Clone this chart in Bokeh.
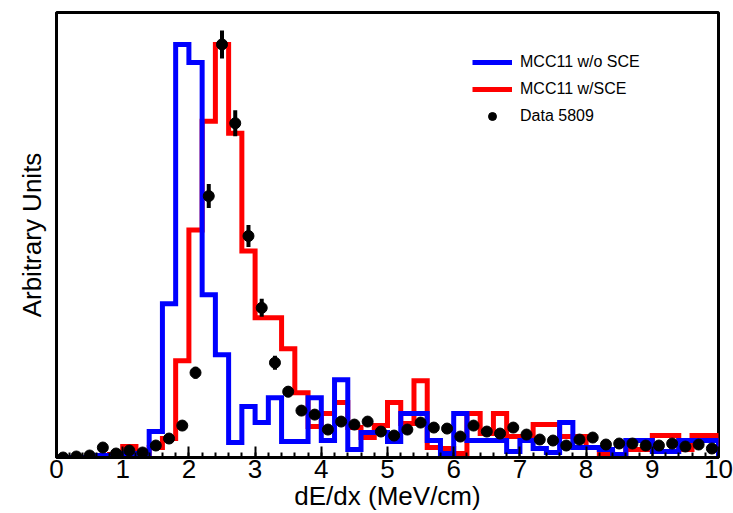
from bokeh.plotting import figure
from bokeh.models import FixedTicker, Legend, LegendItem, Range1d
from bokeh.embed import file_html
from bokeh.resources import INLINE

# ---- data (arbitrary units) ----
bin_edges = [round(0.2 * i, 1) for i in range(51)]
bin_centers = [round(0.1 + 0.2 * i, 1) for i in range(50)]
x_tick_values = [0, 1, 2, 3, 4, 5, 6, 7, 8, 9, 10]
x_tick_labels = ["0", "1", "2", "3", "4", "5", "6", "7", "8", "9", "10"]

mc_no_sce = [0, 0, 0, 2, 2, 4, 4, 26, 154, 414,
             396, 163, 103, 15, 51, 35, 60, 16, 16, 60,
             17, 78, 8, 25, 25, 16, 44, 44, 17, 4,
             44, 17, 17, 17, 6, 17, 9, 5, 35, 10,
             10, 8, 3, 17, 17, 6, 6, 17, 17, 17]

mc_sce = [0, 0, 0, 0, 3, 11, 3, 10, 19, 97,
          228, 337, 414, 325, 207, 140, 140, 109, 65, 31,
          44, 55, 30, 20, 32, 55, 34, 77, 10, 9,
          4, 44, 24, 44, 21, 21, 33, 33, 21, 21,
          10, 4, 3, 8, 8, 22, 22, 8, 22, 22]

data_5809 = [0, 1, 2, 10, 4, 7, 5, 12, 19, 32,
             85, 262, 414, 335, 222, 150, 95, 66, 47, 43,
             28, 36, 33, 36, 26, 22, 28, 35, 30, 29,
             21, 32, 26, 24, 30, 23, 18, 17, 12, 18,
             20, 13, 14, 14, 12, 12, 14, 11, 13, 9]

data_err = [0, 0.5, 1, 2, 1, 2, 1.5, 2.5, 3, 4,
            6, 12, 14, 13, 11, 9, 7, 5.5, 4.7, 4.5,
            3.6, 4, 4, 4, 3.5, 3.2, 3.6, 4, 3.8, 3.7,
            3.1, 3.9, 3.5, 3.4, 3.8, 3.3, 2.9, 2.8, 2.4, 2.9,
            3, 2.5, 2.6, 2.6, 2.4, 2.4, 2.6, 2.3, 2.5, 2.1]


def step_outline(edges, vals):
    xs, ys = [edges[0]], [0]
    for i, v in enumerate(vals):
        xs += [edges[i], edges[i + 1]]
        ys += [v, v]
    xs.append(edges[-1])
    ys.append(0)
    return xs, ys


FONT = "Liberation Sans"

p = figure(width=733, height=513,
           x_range=Range1d(0, 10), y_range=Range1d(0, 446),
           output_backend="svg", toolbar_location=None,
           min_border_left=56, min_border_right=15,
           min_border_top=12, min_border_bottom=55)
p.grid.visible = False
p.background_fill_color = "white"
p.border_fill_color = "white"
p.outline_line_color = "black"
p.outline_line_width = 3

rx, ry = step_outline(bin_edges, mc_sce)
red_line = p.line(rx, ry, line_color="#ff0000", line_width=5, line_join="miter")
bx, by = step_outline(bin_edges, mc_no_sce)
blue_line = p.line(bx, by, line_color="#0000ff", line_width=5, line_join="miter")

lo = [v - e for v, e in zip(data_5809, data_err)]
hi = [v + e for v, e in zip(data_5809, data_err)]
p.segment(x0=bin_centers, y0=lo, x1=bin_centers, y1=hi, line_color="black", line_width=4)
pts = p.scatter(bin_centers, data_5809, size=11, marker="circle",
                fill_color="black", line_color="black")

# x axis
xa = p.xaxis[0]
xa.ticker = FixedTicker(ticks=x_tick_values, minor_ticks=bin_edges)
xa.major_label_overrides = {t: l for t, l in zip(x_tick_values, x_tick_labels)}
xa.axis_line_width = 3
xa.major_tick_in = 11
xa.major_tick_out = 0
xa.minor_tick_in = 5
xa.minor_tick_out = 0
xa.major_tick_line_width = 2
xa.minor_tick_line_width = 2
xa.major_label_text_font = FONT
xa.major_label_text_font_size = "26px"
xa.major_label_text_color = "black"
xa.major_label_standoff = 2
xa.axis_label = "dE/dx (MeV/cm)"
xa.axis_label_text_font = FONT
xa.axis_label_text_font_size = "26px"
xa.axis_label_text_font_style = "normal"
xa.axis_label_text_color = "black"
xa.axis_label_standoff = 0

# y axis
ya = p.yaxis[0]
ya.ticker = FixedTicker(ticks=[])
ya.major_label_text_font_size = "0px"
ya.major_tick_in = 0
ya.major_tick_out = 0
ya.minor_tick_in = 0
ya.minor_tick_out = 0
ya.axis_line_width = 3
ya.axis_label = "Arbitrary Units"
ya.axis_label_text_font = FONT
ya.axis_label_text_font_size = "26px"
ya.axis_label_text_font_style = "normal"
ya.axis_label_text_color = "black"
ya.axis_label_standoff = 10

legend = Legend(items=[
    LegendItem(label="MCC11 w/o SCE", renderers=[blue_line]),
    LegendItem(label="MCC11 w/SCE", renderers=[red_line]),
    LegendItem(label="Data 5809", renderers=[pts]),
], location=(416, 331))
legend.border_line_color = None
legend.background_fill_alpha = 0
legend.padding = 0
legend.margin = 0
legend.spacing = 7
legend.glyph_width = 40
legend.glyph_height = 20
legend.label_standoff = 8
legend.label_text_font = FONT
legend.label_text_font_size = "16px"
legend.label_text_color = "black"
p.add_layout(legend)

open("out.html", "w").write(file_html(p, INLINE))
